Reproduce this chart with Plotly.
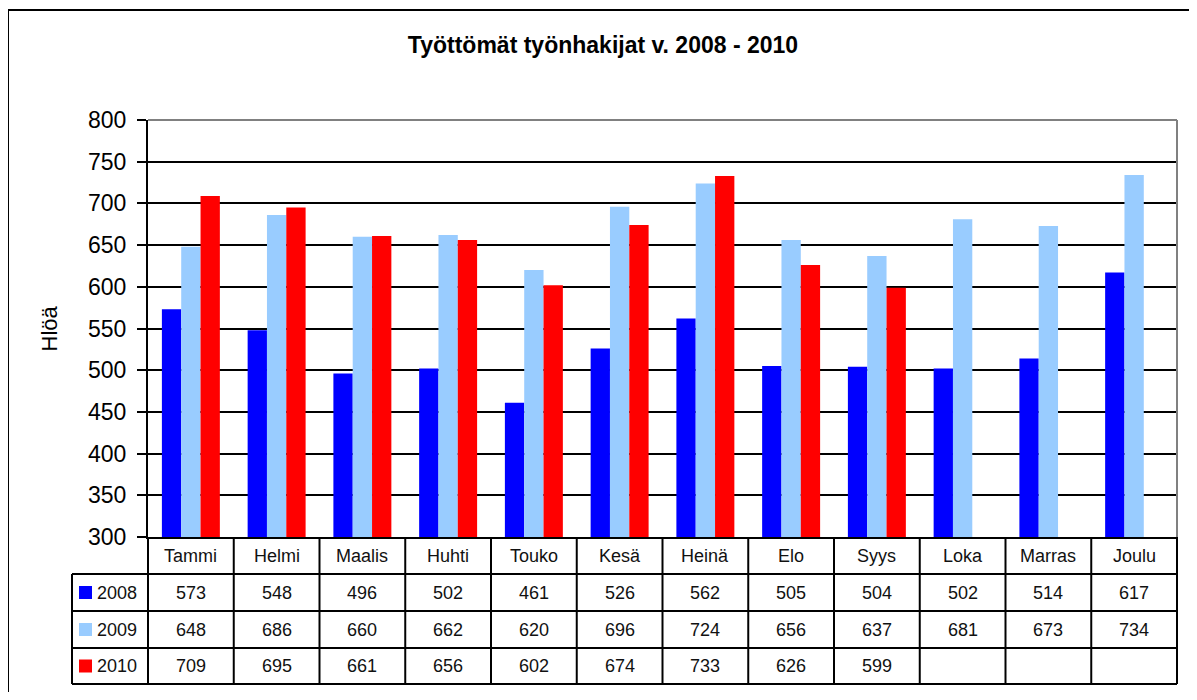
import plotly.graph_objects as go

months = ["Tammi", "Helmi", "Maalis", "Huhti", "Touko", "Kesä",
          "Heinä", "Elo", "Syys", "Loka", "Marras", "Joulu"]
y2008 = [573, 548, 496, 502, 461, 526, 562, 505, 504, 502, 514, 617]
y2009 = [648, 686, 660, 662, 620, 696, 724, 656, 637, 681, 673, 734]
y2010 = [709, 695, 661, 656, 602, 674, 733, 626, 599, None, None, None]

series = [("2008", y2008, "#0000FF"),
          ("2009", y2009, "#99CCFF"),
          ("2010", y2010, "#FF0000")]

OFF = 8                              # page body margin
W, H = 1197 - 2 * OFF, 700 - 2 * OFF
# layout measured in screen pixels, converted below
L, R, T, B = 148, 1177, 120, 537     # plot area
rows = [537, 574, 611, 648, 684]     # table row edges
legcol = 72                          # left edge of legend column

arial = "Liberation Sans, Arial, sans-serif"


def px(x):
    return (x - L) / (R - L)


def py(y):
    return (B - y) / (B - T)


fig = go.Figure()
for name, vals, col in series:
    fig.add_trace(go.Bar(x=months, y=vals, name=name, marker_color=col,
                         marker_line_width=0))

shapes = []
ann = []
line = dict(color="black", width=2)

# outer chart border
shapes.append(dict(type="rect", xref="paper", yref="paper",
                   x0=px(8), x1=px(1220), y0=py(10), y1=py(720),
                   line=line, layer="below"))
# plot border top/right (gray)
shapes.append(dict(type="line", xref="paper", yref="paper", x0=0, x1=1, y0=1, y1=1,
                   line=dict(color="#808080", width=2)))
shapes.append(dict(type="line", xref="paper", yref="paper", x0=1, x1=1, y0=0, y1=1,
                   line=dict(color="#808080", width=2)))

# table: horizontal lines
for r in rows[1:]:
    shapes.append(dict(type="line", xref="paper", yref="paper",
                       x0=px(legcol), x1=1, y0=py(r), y1=py(r), line=line))
# vertical lines
n = len(months)
for i in range(n + 1):
    shapes.append(dict(type="line", xref="paper", yref="paper",
                       x0=i / n, x1=i / n, y0=py(rows[0]), y1=py(rows[-1]), line=line))
shapes.append(dict(type="line", xref="paper", yref="paper",
                   x0=px(legcol), x1=px(legcol), y0=py(rows[1]), y1=py(rows[-1]), line=line))


def mid(k):
    return py((rows[k] + rows[k + 1]) / 2)


cell_font = dict(family=arial, size=18, color="#111111")

# month names row
for m in months:
    ann.append(dict(x=m, xref="x", y=mid(0), yref="paper", text=m, showarrow=False,
                    xanchor="center", yanchor="middle", font=cell_font))

# value rows + legend keys
for k, (name, vals, col) in enumerate(series, start=1):
    for m, v in zip(months, vals):
        if v is not None:
            ann.append(dict(x=m, xref="x", y=mid(k), yref="paper", text=str(v),
                            showarrow=False, xanchor="center", yanchor="middle",
                            font=cell_font))
    yc = (rows[k] + rows[k + 1]) / 2
    shapes.append(dict(type="rect", xref="paper", yref="paper",
                       x0=px(79), x1=px(92), y0=py(yc - 6.5), y1=py(yc + 6.5),
                       fillcolor=col, line=dict(width=0)))
    ann.append(dict(x=px(95), xref="paper", y=mid(k), yref="paper", text=name,
                    xanchor="left", yanchor="middle", showarrow=False,
                    font=cell_font))

# y axis title
ann.append(dict(x=px(49), xref="paper", y=0.5, yref="paper", text="Hlöä",
                textangle=-90, showarrow=False, xanchor="center", yanchor="middle",
                font=dict(family=arial, size=22, color="black")))

fig.update_layout(
    width=W, height=H,
    margin=dict(l=L - OFF, r=W - (R - OFF), t=T - OFF, b=H - (B - OFF),
                autoexpand=False),
    paper_bgcolor="white", plot_bgcolor="white",
    title=dict(text="<b>Työttömät työnhakijat v. 2008 - 2010</b>",
               x=(603 - OFF) / W, xanchor="center", xref="container",
               y=1 - (45 - OFF) / H, yanchor="middle", yref="container",
               font=dict(family=arial, size=23, color="black")),
    showlegend=False,
    barmode="group", bargap=0.324, bargroupgap=0,
    shapes=shapes, annotations=ann,
)
fig.update_xaxes(showticklabels=False, ticks="", showgrid=False,
                 showline=True, linecolor="black", linewidth=2,
                 range=[-0.5, n - 0.5])
fig.update_yaxes(range=[300, 800], dtick=50, tick0=300,
                 showgrid=True, gridcolor="black", gridwidth=2,
                 showline=True, linecolor="black", linewidth=2,
                 ticks="outside", ticklen=9, tickwidth=2, tickcolor="black",
                 ticklabelstandoff=6,
                 tickfont=dict(family=arial, size=23, color="black"),
                 zeroline=False)

fig.write_html("out.html")
